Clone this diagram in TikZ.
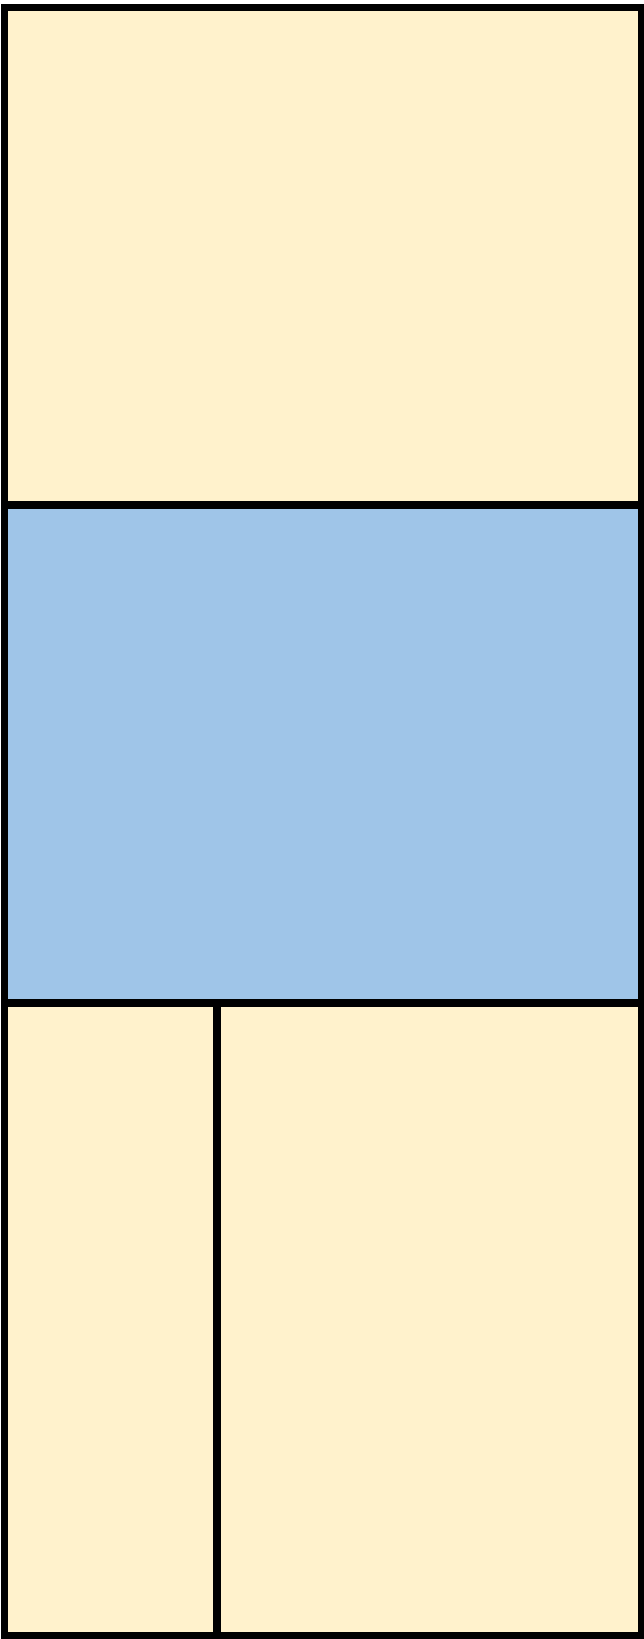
\documentclass[tikz,border=0pt]{standalone}
\usepackage{tikz}
\usetikzlibrary{positioning}
\definecolor{creamfill}{HTML}{FFF2CC}
\definecolor{bluefill}{HTML}{9FC5E8}

\begin{document}
\begin{tikzpicture}[x=0.02cm, y=-0.02cm, line width=4pt]
    % Fixed page size
    \useasboundingbox (0,0) rectangle (644,1639);

    % Top panel
    \fill[creamfill] (4.5,7.5) rectangle (641.5,505);
    % Middle panel
    \fill[bluefill] (4.5,505) rectangle (641.5,1003);
    % Bottom panels
    \fill[creamfill] (4.5,1003) rectangle (641.5,1635.5);

    % Divider lines
    \draw (4.5,505) -- (641.5,505);
    \draw (4.5,1003) -- (641.5,1003);
    \draw (217,1003) -- (217,1635.5);

    % Outer frame
    \draw (4.5,7.5) rectangle (641.5,1635.5);
\end{tikzpicture}
\end{document}
